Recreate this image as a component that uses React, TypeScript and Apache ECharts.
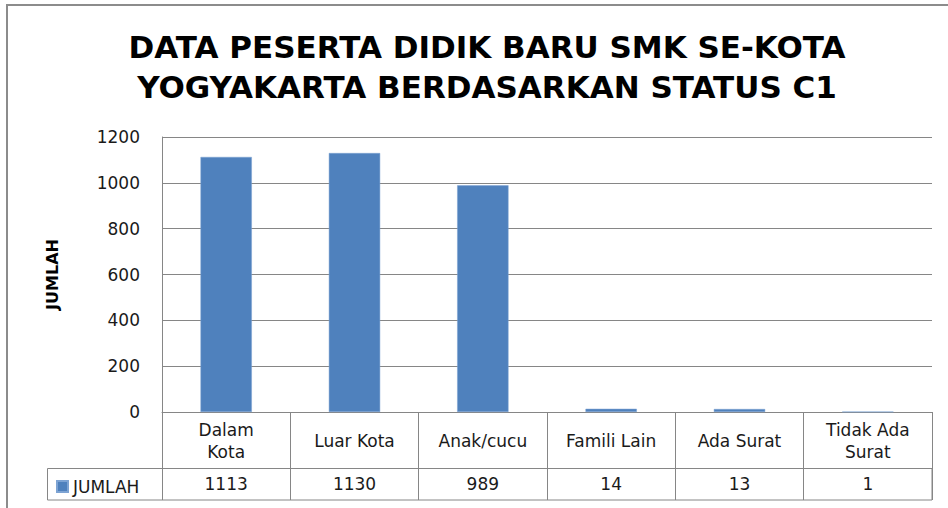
import React, { useEffect, useRef } from "react";
import * as echarts from "echarts";

const titleLines = [
  "DATA PESERTA DIDIK BARU SMK SE-KOTA",
  "YOGYAKARTA BERDASARKAN STATUS C1",
];
const categories = ["Dalam\nKota", "Luar Kota", "Anak/cucu", "Famili Lain", "Ada Surat", "Tidak Ada\nSurat"];
const seriesName = "JUMLAH";
const values = [1113, 1130, 989, 14, 13, 1];
const yAxisName = "JUMLAH";
const yMin = 0;
const yMax = 1200;
const yInterval = 200;

const FONT = "'DejaVu Sans', 'Noto Sans', sans-serif";
const BLUE = "#4F81BD";
const GRID = "#868686";
const TEXT = "#1a1a1a";

export default function App() {
  const ref = useRef<HTMLDivElement>(null);
  useEffect(() => {
    if (!ref.current) return;
    const chart = echarts.init(ref.current, undefined, { renderer: "svg" });
    const gridLeft = 162;
    const gridRight = 948 - 932;
    const gridTop = 137;
    const gridBottom = 508 - 412;
    chart.setOption({
      animation: false,
      backgroundColor: "#ffffff",
      textStyle: { fontFamily: FONT },
      title: {
        text: titleLines.join("\n"),
        left: 482,
        top: 22,
        textAlign: "center",
        textStyle: {
          fontFamily: FONT,
          fontSize: 31,
          fontWeight: "bold",
          color: "#000",
          lineHeight: 40,
        },
      },
      legend: {
        data: [seriesName],
        left: 51,
        top: 473,
        icon: "rect",
        itemWidth: 11,
        itemHeight: 11,
        itemGap: 4,
        textStyle: { fontFamily: FONT, fontSize: 17, color: TEXT, padding: [0, 0, 0, 0] },
        selectedMode: false,
      },
      grid: { left: gridLeft, right: gridRight, top: gridTop, bottom: gridBottom, containLabel: false },
      xAxis: [
        {
          type: "category",
          data: categories,
          position: "bottom",
          axisLine: { show: true, lineStyle: { color: GRID, width: 1 } },
          axisTick: { show: true, alignWithLabel: false, length: 88, lineStyle: { color: GRID } },
          axisLabel: {
            interval: 0,
            margin: 29,
            verticalAlign: "middle",
            align: "center",
            fontFamily: FONT,
            fontSize: 17,
            lineHeight: 22,
            color: TEXT,
          },
        },
        {
          type: "category",
          data: values.map((v) => String(v)),
          position: "bottom",
          offset: 56,
          axisLine: { show: true, lineStyle: { color: GRID, width: 1 } },
          axisTick: { show: false },
          axisLabel: {
            interval: 0,
            margin: 16,
            verticalAlign: "middle",
            fontFamily: FONT,
            fontSize: 17,
            color: TEXT,
          },
        },
      ],
      yAxis: {
        type: "value",
        min: yMin,
        max: yMax,
        interval: yInterval,
        name: yAxisName,
        nameLocation: "middle",
        nameGap: 102,
        nameRotate: 90,
        nameTextStyle: { fontFamily: FONT, fontSize: 16, fontWeight: "bold", color: "#000" },
        axisLine: { show: true, lineStyle: { color: GRID, width: 1 } },
        axisTick: { show: false },
        axisLabel: {
          margin: 22,
          fontFamily: FONT,
          fontSize: 17,
          color: TEXT,
          formatter: (v: number) => String(v),
        },
        splitLine: { show: true, lineStyle: { color: GRID, width: 1 } },
      },
      graphic: [
        {
          type: "rect",
          shape: { x: 7, y: 5, width: 960, height: 520 },
          style: { fill: "none", stroke: "#8c8c8c", lineWidth: 2 },
          silent: true,
          z: -1,
        },
        {
          type: "rect",
          shape: { x: 47.5, y: 468.5, width: 884.5, height: 31.5 },
          style: { fill: "none", stroke: GRID, lineWidth: 1 },
          silent: true,
        },
      ],
      series: [
        {
          name: seriesName,
          type: "bar",
          data: values,
          xAxisIndex: 0,
          barWidth: "40%",
          itemStyle: { color: BLUE, borderColor: "#7da3d3", borderWidth: 0.5 },
        },
      ],
    });
    return () => chart.dispose();
  }, []);
  return (
    <div
      ref={ref}
      style={{ position: "fixed", left: 0, top: 0, width: 948, height: 508 }}
    />
  );
}
